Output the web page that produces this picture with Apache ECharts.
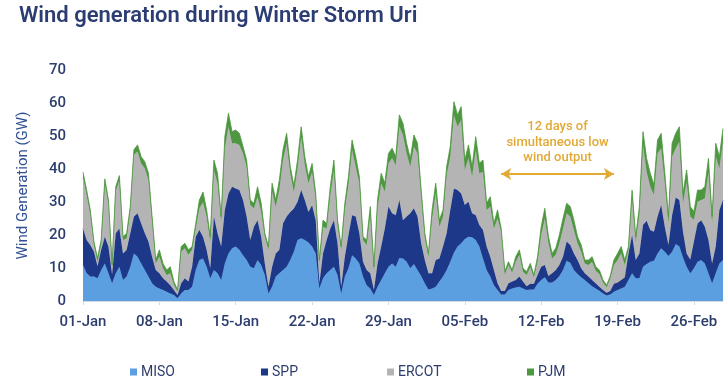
<!DOCTYPE html>
<html><head><meta charset="utf-8">
<script src="https://cdn.jsdelivr.net/npm/echarts@6/dist/echarts.min.js"></script>
<style>html,body{margin:0;padding:0;background:#fff}#c{width:725px;height:378px}</style>
</head><body><div id="c"></div>
<script>
// x-axis tick labels (one every 7 days); samples are every 8 hours (3 per day) from 01-Jan 00:00
const tickLabels = ['01-Jan','08-Jan','15-Jan','22-Jan','29-Jan','05-Feb','12-Feb','19-Feb','26-Feb'];
const samplesPerDay = 3;
const seriesNames = ['MISO','SPP','ERCOT','PJM'];

const miso = [10.9,8.4,7.4,7.4,6.9,9.4,11.4,8.4,5.4,8.4,10.4,6.4,7.4,10.4,14.4,13.4,11.4,9.4,7.4,5.4,4.3,3.8,3.3,2.8,2.3,1.8,0.8,2.3,3.3,3.3,
 4.3,9.4,12.4,12.9,10.4,6.9,9.4,8.4,6.4,11.4,14.4,16,16.5,15.5,13.9,12.4,10.4,9.9,12.4,10.9,7.9,2.3,4.3,7.4,8.4,9.4,10.4,12.4,15,
 18.5,19,18.5,17.7,16.5,14.4,3.8,6.9,8.4,9.4,10.4,7.9,2.3,7.4,9.9,13.9,12.9,11.4,7.4,4.8,3.8,1.8,4.3,6.4,8.4,10.4,11.4,10.4,13,
 12.9,11.9,9.9,11.2,9.4,7.6,5.4,3.5,3.8,4.3,5.9,7.4,9.4,11.9,14.6,16.5,17.5,18.8,19.5,19.3,18.5,16.5,12.9,9.4,7.4,4.8,3.3,2,2,
 3.3,3.8,4.1,4.3,3.8,3.3,3.5,3.5,5.2,6.4,7.2,5.6,5.6,6.4,7.6,9.4,12.2,11.6,9.4,8.2,7.2,6.4,5.4,4.5,3.8,3.1,2.3,1.7,2,
 2.8,3.3,3.8,4.3,6.4,8.4,6.9,6.9,10.4,11.2,11.9,12.2,14.4,16,14.9,13.6,14.9,17.3,16.5,13.2,10.4,8.4,9.9,11.9,12.4,11.4,8.4,5.4,8.4,11.4,12.4];

const spp = [11.1,10.1,9.6,7.6,3.6,6.1,8.1,8.1,2.6,12.1,11.6,8,8.1,10.1,11.2,13.2,12.1,11.1,10.6,8,5.1,4.6,3.6,3.1,2.5,1.5,1,3.1,3.6,2.6,
 6.1,10.1,9.1,6.6,5.1,3,16.2,12.1,10.1,16.2,18.2,18.6,17.6,18.1,16.7,13.2,8.1,12.6,12.1,8.6,3.5,2,6.1,7,7.1,14.1,15.2,14.6,13,
 11.6,14.6,12.1,9.3,12.5,10.1,1.6,7.5,10.1,12.6,14.1,9.6,2,6,10.1,12.1,12.7,9.1,4.5,4.6,4.6,1.5,7.1,10.1,13.6,18.2,15.2,15.6,17.6,
 11.6,13.7,16.7,16.9,16.2,9.9,7,4.9,4.6,8.1,7,9.1,11.1,15.7,19.5,17.1,15.1,10.3,10.6,7.3,7.5,6.5,8.6,7.1,6,4.6,2.1,1,1,
 2.1,2.1,2.3,3.1,2.1,1.2,1.7,1.7,2.7,4,3.7,2,2.8,3,3.3,4,5.8,5.4,5,4.2,2.7,2,2,1.9,1.6,1.2,1,0.8,1,
 2.4,2.3,2.6,2.9,8,11.6,5.5,7.5,12.6,13.1,9.6,8.8,11.2,13.1,7.6,3.4,11.1,14.1,14.1,7.8,4,4.2,8.1,11.6,12.1,11.1,10.1,6,8.1,16.2,18.2];

const ercot = [15.5,13.6,9.4,2,1.5,1.8,16,12.9,2.2,12.9,14.5,4.1,3.5,6.6,18.7,18.7,18.2,19.7,18.7,10.7,2,5.1,3,2,3.6,1.6,1,9.6,9.1,8.1,
 5.1,2.5,6.6,10.5,10.1,8.1,14.1,15.2,7.6,18.7,20.3,13.2,13.7,13.7,14.2,15.1,10.6,5.6,7.1,7.6,8.1,11.2,22.8,14.2,18.2,19.3,22.2,11.7,5,
 10.1,16.2,10.6,8.7,10.2,6.1,6,8.1,3.5,10.1,15.2,5.5,11.2,14.2,15.2,19.8,15.1,15.2,6.6,7.6,17.7,6.1,16.7,19.2,11.2,13.1,16.7,15.2,22.3,
 25.8,19.2,14.1,18.7,19.2,14.1,6.6,5,16.7,20.3,9.6,9.1,17.7,16.2,22.3,19.3,22.3,10.6,13.2,11.1,19.8,15.7,17.7,11.1,15.2,12.6,19.7,18,5,
 5.5,2.7,5.5,6.6,3,3.4,5,1.9,4,9.6,14.2,9.9,4.5,4.6,6.6,8.6,8.6,8.6,7.1,5.1,5.1,3,3.5,5.5,3.8,3.9,2.3,1.7,3.8,
 5.7,6.8,8.1,3.7,1.1,11.1,5.6,11.7,24.3,14.9,13.2,11.2,19.2,17.2,13.2,6.6,17.8,14.9,17.7,8.6,21.8,13,6.6,6.6,6.1,8.6,20.7,12.2,27.3,12.6,17.7];

const pjm = [1.5,1.5,1.2,1,1,1.2,1.5,1.2,0.8,1.2,1.5,1,1.5,1.5,1.5,2,2,2,2,1.5,1,2,1.5,1.5,2,1,0.5,1.5,1.5,1.5,
 1,1.5,2.5,3,2,1.5,3,3,1.5,3.5,4,3.5,4,3.5,2,2,1.5,1.5,3,2.5,1,1,2.5,2,3,3,3,2,2,
 2.5,3,2.5,2,2.5,2,1,2,1.5,2.5,3,1.5,1,2,2.5,3,3,2,1,1.5,2.5,1,2.5,3,2.5,3,3,2.5,3.5,
 3.5,3,2.5,3.5,3,2,1.5,1,2.5,3,2,2,2.5,3,4,3.5,4,3,4,3,4,3,3.5,2,3,1.5,2.5,1,1,
 1,0.8,1.5,1.5,1,1,1.2,0.8,1.5,2.5,3,2,1.5,2,2.5,3,3,3,3,2,2,1,1.5,1.5,1.2,1.2,0.8,0.6,0.8,
 1.5,2,2,1.5,1,2.5,1.5,2.5,4,4,4,3,4,4.5,3,2,4,4.5,4.5,3,3.5,3,2.5,3.5,3,3.5,4,2,4,3.5,4];

// annotation: 12-day low wind window (sample index) and arrow level (GW)
const lowWindStart = 115, lowWindEnd = 146, arrowLevel = 38.5;
const annotationText = '12 days of\nsimultaneous low\nwind output';

const colors = ['#5b9fe0', '#1d3889', '#b4b4b4', '#4c973f'];
const navy = '#2c3d6e';
const gold = '#e2a935';

const categories = miso.map((_, i) => String(i));
const ticksEvery = 7 * samplesPerDay;

const seriesValues = [miso, spp, ercot, pjm];
const series = seriesValues.map((vals, k) => ({
  name: seriesNames[k],
  type: 'line',
  stack: 'total',
  symbol: 'none',
  smooth: false,
  data: vals,
  lineStyle: { width: 0.8, color: colors[k] },
  itemStyle: { color: colors[k] },
  areaStyle: { color: colors[k], opacity: 1 },
  z: 2 + k
}));
series[0].markLine = {
  silent: true,
  symbol: ['arrow', 'arrow'],
  symbolSize: [9, 10],
  lineStyle: { color: gold, width: 2, type: 'solid' },
  label: {
    show: true, position: 'middle', formatter: annotationText, color: gold,
    fontSize: 13, fontWeight: 500, lineHeight: 15.5, fontFamily: 'Roboto', distance: 8
  },
  data: [[{ coord: [lowWindStart, arrowLevel] }, { coord: [lowWindEnd, arrowLevel] }]]
};

const legendLefts = [125, 256, 382, 522];
const legends = seriesNames.map((n, k) => ({
  data: [n], left: legendLefts[k], top: 360, icon: 'rect', itemWidth: 7, itemHeight: 7, itemGap: 4,
  textStyle: { color: navy, fontSize: 14, fontFamily: 'Roboto', padding: [0, 0, 0, -1] }
}));

const chart = echarts.init(document.getElementById('c'), null, { renderer: 'canvas' });
chart.setOption({
  animation: false,
  backgroundColor: '#fff',
  title: {
    text: 'Wind generation during Winter Storm Uri', left: 14, top: 0,
    textStyle: { color: '#2b3d72', fontSize: 22, fontWeight: 600, fontFamily: 'Roboto' }
  },
  legend: legends,
  grid: { left: 83, right: 2, top: 70, bottom: 77, containLabel: false },
  xAxis: {
    type: 'category', data: categories, boundaryGap: false,
    axisLine: { show: true, lineStyle: { color: '#d5d9e0', width: 1 } },
    axisTick: { show: true, length: 4, interval: i => i % ticksEvery === 0, lineStyle: { color: '#d5d9e0' } },
    splitLine: { show: false },
    axisLabel: {
      interval: i => i % ticksEvery === 0,
      color: navy, fontSize: 15, fontWeight: 500, fontFamily: 'Roboto', margin: 14,
      formatter: (v, i) => tickLabels[i / ticksEvery] || ''
    }
  },
  yAxis: {
    type: 'value', min: 0, max: 70, interval: 10,
    name: 'Wind Generation (GW)', nameLocation: 'middle', nameGap: 52,
    nameTextStyle: { color: '#2f4f91', fontSize: 15, fontFamily: 'Roboto' },
    axisLine: { show: false }, axisTick: { show: false }, splitLine: { show: false },
    axisLabel: { color: navy, fontSize: 15, fontWeight: 500, fontFamily: 'Roboto', margin: 17 }
  },
  series: series
});
</script></body></html>
